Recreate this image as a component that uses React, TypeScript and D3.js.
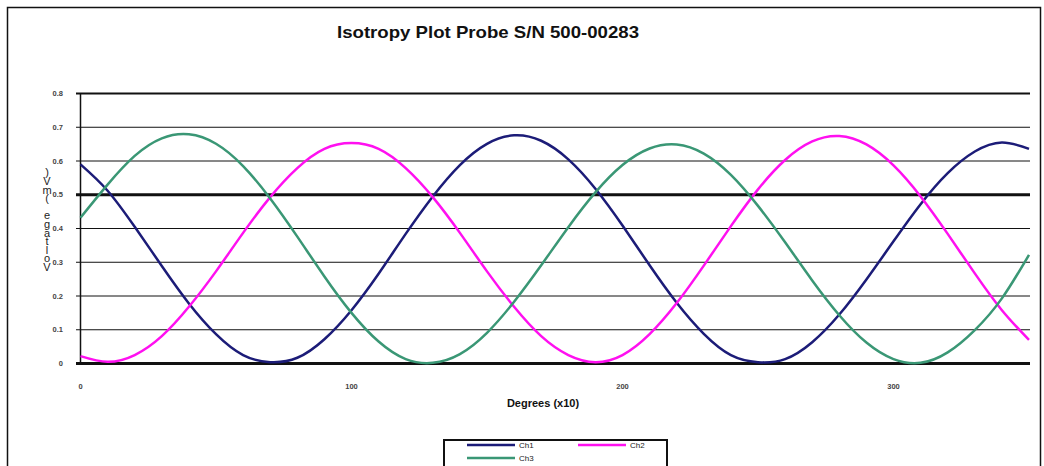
import React, { useEffect, useRef } from 'react';
import * as d3 from 'd3';

// degrees (x10), sampled every 10
const degrees = d3.range(0, 360, 10);

const ch1 = [
  0.59, 0.512, 0.405, 0.289, 0.178, 0.087, 0.025, 0.004, 0.017, 0.072,
  0.158, 0.266, 0.384, 0.495, 0.588, 0.651, 0.676, 0.66, 0.605, 0.518,
  0.409, 0.291, 0.18, 0.088, 0.025, 0.004, 0.013, 0.063, 0.145, 0.249,
  0.362, 0.472, 0.564, 0.628, 0.655, 0.636,
];

const ch2 = [
  0.022, 0.005, 0.025, 0.081, 0.168, 0.273, 0.387, 0.493, 0.579, 0.636,
  0.653, 0.636, 0.579, 0.493, 0.387, 0.273, 0.168, 0.081, 0.025, 0.004,
  0.025, 0.087, 0.179, 0.29, 0.407, 0.516, 0.603, 0.658, 0.674, 0.649,
  0.587, 0.495, 0.384, 0.267, 0.158, 0.07,
];

const ch3 = [
  0.432, 0.53, 0.615, 0.667, 0.679, 0.651, 0.585, 0.489, 0.376, 0.258,
  0.15, 0.065, 0.013, 0.002, 0.028, 0.091, 0.183, 0.291, 0.404, 0.507,
  0.588, 0.637, 0.649, 0.622, 0.559, 0.467, 0.359, 0.246, 0.143, 0.062,
  0.013, 0.002, 0.033, 0.099, 0.193, 0.322,
];

const seriesNames = ['Ch1', 'Ch2', 'Ch3'];
const seriesColors = ['#1c1c78', '#ff10f0', '#3a9775'];
const yTicks = [0, 0.1, 0.2, 0.3, 0.4, 0.5, 0.6, 0.7, 0.8];
const xTicks = [0, 100, 200, 300];
const yTitle = 'Voltage (mV)';

const App: React.FC = () => {
  const ref = useRef<SVGSVGElement>(null);

  useEffect(() => {
    const width = 1044;
    const height = 466;
    const svg = d3.select(ref.current);
    svg.selectAll('*').remove();

    const x = d3.scaleLinear().domain([0, 350]).range([80.5, 1029]);
    const y = d3.scaleLinear().domain([0, 0.8]).range([363.5, 93.5]);

    svg.append('rect')
      .attr('width', width)
      .attr('height', height)
      .attr('fill', '#fff');

    // outer chart border
    svg.append('rect')
      .attr('x', 7.5)
      .attr('y', 7.5)
      .attr('width', 1033)
      .attr('height', 470)
      .attr('fill', 'none')
      .attr('stroke', '#111')
      .attr('stroke-width', 1.5);

    svg.append('text')
      .attr('x', 488)
      .attr('y', 38)
      .attr('text-anchor', 'middle')
      .attr('textLength', 302)
      .attr('lengthAdjust', 'spacingAndGlyphs')
      .style('font-family', 'Liberation Sans, Arial, sans-serif')
      .style('font-size', '17px')
      .style('font-weight', 'bold')
      .attr('fill', '#111')
      .text('Isotropy Plot Probe S/N 500-00283');

    // gridlines
    svg.append('g')
      .selectAll('line')
      .data(yTicks)
      .enter()
      .append('line')
      .attr('x1', 76)
      .attr('x2', 1030)
      .attr('y1', d => y(d))
      .attr('y2', d => y(d))
      .attr('stroke', '#111')
      .attr('stroke-width', d => (d === 0 || d === 0.5 ? 3 : d === 0.8 ? 2 : 1));

    svg.append('line')
      .attr('x1', x(0))
      .attr('x2', x(0))
      .attr('y1', y(0.8))
      .attr('y2', y(0))
      .attr('stroke', '#111')
      .attr('stroke-width', 1.5);

    svg.append('g')
      .selectAll('text')
      .data(yTicks)
      .enter()
      .append('text')
      .attr('x', 63)
      .attr('y', d => y(d) + 2.5)
      .attr('text-anchor', 'end')
      .style('font-family', 'Liberation Sans, Arial, sans-serif')
      .style('font-size', '7.5px')
      .style('font-weight', 'bold')
      .attr('fill', '#444')
      .text(d => (d === 0 ? '0' : d.toFixed(1)));

    svg.append('g')
      .selectAll('text')
      .data(xTicks)
      .enter()
      .append('text')
      .attr('x', d => x(d))
      .attr('y', 389)
      .attr('text-anchor', 'middle')
      .style('font-family', 'Liberation Sans, Arial, sans-serif')
      .style('font-size', '7.5px')
      .style('font-weight', 'bold')
      .attr('fill', '#444')
      .text(d => String(d));

    svg.append('text')
      .attr('x', 543)
      .attr('y', 407)
      .attr('text-anchor', 'middle')
      .style('font-family', 'Liberation Sans, Arial, sans-serif')
      .style('font-size', '11px')
      .style('font-weight', 'bold')
      .attr('fill', '#111')
      .text('Degrees (x10)');

    // stacked y title, read bottom to top, one vertical text
    svg.append('text')
      .attr('x', 47)
      .attr('y', 218)
      .attr('text-anchor', 'middle')
      .style('writing-mode', 'vertical-rl')
      .style('text-orientation', 'upright')
      .style('letter-spacing', '-3.4px')
      .style('font-family', 'Liberation Sans, Arial, sans-serif')
      .style('font-size', '11px')
      .attr('fill', '#222')
      .text(yTitle.split('').reverse().join(''));

    const series = [ch1, ch2, ch3];
    const line = d3.line<number>()
      .x((_, i) => x(degrees[i]))
      .y(d => y(d))
      .curve(d3.curveNatural);

    svg.append('g')
      .selectAll('path')
      .data(series)
      .enter()
      .append('path')
      .attr('d', d => line(d))
      .attr('fill', 'none')
      .attr('stroke', (_, i) => seriesColors[i])
      .attr('stroke-width', 2.5);

    // legend
    const legend = svg.append('g');
    legend.append('rect')
      .attr('x', 444)
      .attr('y', 440)
      .attr('width', 223)
      .attr('height', 40)
      .attr('fill', '#fff')
      .attr('stroke', '#111')
      .attr('stroke-width', 2);

    const legendPos = [
      { x: 467, y: 445 },
      { x: 578, y: 445 },
      { x: 467, y: 458 },
    ];
    seriesNames.forEach((name, i) => {
      const p = legendPos[i];
      legend.append('line')
        .attr('x1', p.x)
        .attr('x2', p.x + 48)
        .attr('y1', p.y)
        .attr('y2', p.y)
        .attr('stroke', seriesColors[i])
        .attr('stroke-width', 2.5);
      legend.append('text')
        .attr('x', p.x + 52)
        .attr('y', p.y + 3)
        .style('font-family', 'Liberation Sans, Arial, sans-serif')
        .style('font-size', '8px')
        .attr('fill', '#222')
        .text(name);
    });
  }, []);

  return (
    <svg
      ref={ref}
      width={1044}
      height={466}
      style={{ position: 'absolute', left: 0, top: 0, display: 'block' }}
    />
  );
};

export default App;
